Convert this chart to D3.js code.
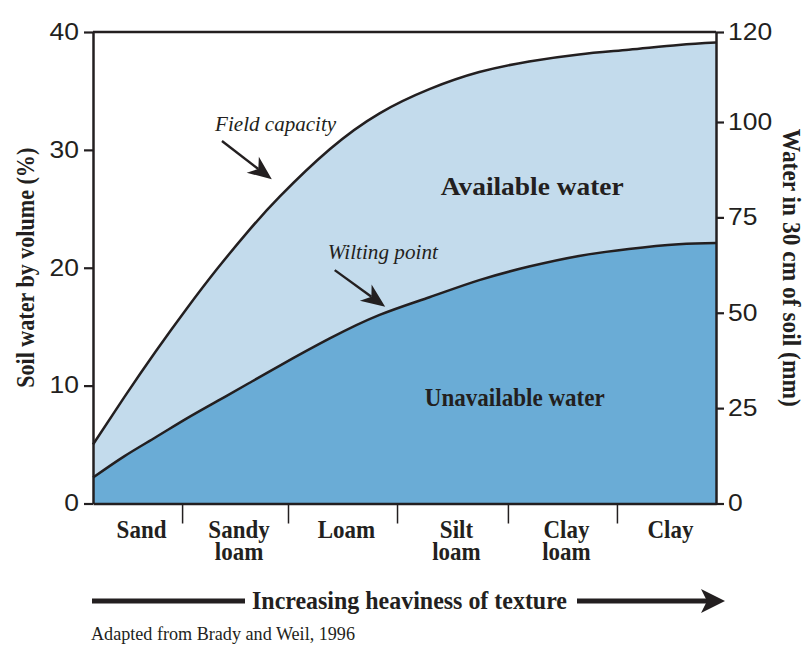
<!DOCTYPE html>
<html>
<head>
<meta charset="utf-8">
<script src="https://cdn.jsdelivr.net/npm/d3@7"></script>
<style>
  body { margin: 0; background: #fff; }
  svg { display: block; }
</style>
</head>
<body>
<svg id="chart"></svg>
<script>
// texture classes, light -> heavy
var textures = [["Sand"], ["Sandy", "loam"], ["Loam"], ["Silt", "loam"], ["Clay", "loam"], ["Clay"]];
// class boundaries along the texture gradient (0 = lightest, 100 = heaviest)
var textureEdges = [0, 14.3, 31.3, 48.8, 66.6, 84.1, 100];
// sample positions along the gradient and soil water (% by volume)
var gradient = [0, 5, 10, 15, 20, 25, 30, 38, 46, 54, 62, 70, 78, 86, 94, 100];
var fieldCapacity = [5.0, 9.0, 12.85, 16.5, 19.95, 23.15, 26.05, 30.05, 33.1, 35.15, 36.6, 37.5, 38.1, 38.5, 38.9, 39.1];
var wiltingPoint = [2.2, 4.0, 5.6, 7.2, 8.7, 10.2, 11.7, 14.0, 16.0, 17.5, 18.95, 20.1, 21.0, 21.6, 22.0, 22.1];
var leftTicks = [0, 10, 20, 30, 40];
var rightTicks = [0, 25, 50, 75, 100, 120];

var width = 807, height = 645;
var ink = "#231f20";
var serif = "'Liberation Serif', 'DejaVu Serif', serif";
var sans = "'Liberation Sans', Arial, sans-serif";

var svg = d3.select("#chart").attr("width", width).attr("height", height);

var x = d3.scaleLinear().domain([0, 100]).range([93, 716]);
var y = d3.scaleLinear().domain([0, 40]).range([503.5, 32]);
// mm axis as drawn in the source: evenly spaced up to 100, 120 at the top edge
var yMm = d3.scaleLinear().domain([0, 100, 120]).range([503.5, 122, 32]);

var data = gradient.map(function (g, i) {
  return { g: g, fc: fieldCapacity[i], wp: wiltingPoint[i] };
});

var curve = d3.curveNatural;

// areas
svg.append("path")
  .datum(data)
  .attr("fill", "#c3dbec")
  .attr("d", d3.area().x(function (d) { return x(d.g); }).y0(y(0))
    .y1(function (d) { return y(d.fc); }).curve(curve));

svg.append("path")
  .datum(data)
  .attr("fill", "#6aacd6")
  .attr("d", d3.area().x(function (d) { return x(d.g); }).y0(y(0))
    .y1(function (d) { return y(d.wp); }).curve(curve));

// curves
["fc", "wp"].forEach(function (k) {
  svg.append("path")
    .datum(data)
    .attr("fill", "none")
    .attr("stroke", ink)
    .attr("stroke-width", 2.5)
    .attr("d", d3.line().x(function (d) { return x(d.g); })
      .y(function (d) { return y(d[k]); }).curve(curve));
});

// top frame line
svg.append("line")
  .attr("x1", x(0)).attr("x2", x(100))
  .attr("y1", y(40)).attr("y2", y(40))
  .attr("stroke", ink).attr("stroke-width", 2.5);

function styleAxis(g) {
  g.select(".domain").attr("stroke", ink).attr("stroke-width", 2.5);
  g.selectAll(".tick line").attr("stroke", ink).attr("stroke-width", 2.2);
  g.selectAll(".tick text")
    .attr("fill", ink)
    .style("font-family", sans)
    .style("font-size", "23px");
}

// left axis
var gLeft = svg.append("g")
  .attr("transform", "translate(" + x(0) + ",0)")
  .call(d3.axisLeft(y).tickValues(leftTicks).tickSize(9).tickSizeOuter(0));
styleAxis(gLeft);
gLeft.selectAll(".tick text")
  .attr("x", 0)
  .attr("transform", "translate(-14,0) scale(1.15,1)");

// right axis
var gRight = svg.append("g")
  .attr("transform", "translate(" + x(100) + ",0)")
  .call(d3.axisRight(yMm).tickValues(rightTicks).tickSize(8).tickSizeOuter(0));
styleAxis(gRight);
gRight.selectAll(".tick text")
  .attr("x", 0)
  .attr("transform", "translate(12,0) scale(1.15,1)");

// bottom axis with class separators
var gBottom = svg.append("g")
  .attr("transform", "translate(0," + y(0) + ")")
  .call(d3.axisBottom(x).tickValues(textureEdges.slice(1, -1)).tickSize(20)
    .tickSizeOuter(0).tickFormat(""));
styleAxis(gBottom);
gBottom.selectAll(".tick line").attr("stroke-width", 1.5);

// texture labels (one text element each, lines as tspans)
textures.forEach(function (lines, i) {
  var cx = (x(textureEdges[i]) + x(textureEdges[i + 1])) / 2 + 4;
  var t = svg.append("text")
    .attr("transform", "translate(" + cx + ",538) scale(0.92,1)")
    .attr("text-anchor", "middle")
    .style("font-family", serif)
    .style("font-weight", "bold")
    .style("font-size", "25px")
    .attr("fill", ink);
  lines.forEach(function (s, j) {
    t.append("tspan").attr("x", 0).attr("y", j * 22).text(s);
  });
});

// axis titles
svg.append("text")
  .attr("transform", "translate(34," + (y(20)) + ") rotate(-90)")
  .attr("text-anchor", "middle")
  .attr("textLength", 240)
  .attr("lengthAdjust", "spacingAndGlyphs")
  .style("font-family", serif)
  .style("font-weight", "bold")
  .style("font-size", "25px")
  .attr("fill", ink)
  .text("Soil water by volume (%)");

svg.append("text")
  .attr("transform", "translate(783," + (y(20)) + ") rotate(90)")
  .attr("text-anchor", "middle")
  .attr("textLength", 278)
  .attr("lengthAdjust", "spacingAndGlyphs")
  .style("font-family", serif)
  .style("font-weight", "bold")
  .style("font-size", "25px")
  .attr("fill", ink)
  .text("Water in 30 cm of soil (mm)");

// region labels
function regionLabel(t, gx, v, len) {
  svg.append("text")
    .attr("x", x(gx)).attr("y", y(v))
    .attr("text-anchor", "middle")
    .attr("textLength", len)
    .attr("lengthAdjust", "spacingAndGlyphs")
    .style("font-family", serif)
    .style("font-weight", "bold")
    .style("font-size", "25px")
    .attr("fill", ink)
    .text(t);
}
regionLabel("Available water", 70.5, 26.15, 183);
regionLabel("Unavailable water", 67.7, 8.3, 180);

// curve annotations
function note(t, gx, v, len) {
  svg.append("text")
    .attr("x", x(gx)).attr("y", y(v))
    .attr("textLength", len)
    .attr("lengthAdjust", "spacingAndGlyphs")
    .style("font-family", serif)
    .style("font-style", "italic")
    .style("font-size", "20px")
    .attr("fill", ink)
    .text(t);
}
note("Field capacity", 19.6, 31.6, 121);
note("Wilting point", 37.7, 20.7, 110);

function arrow(x1, y1, x2, y2, hl, hw, notch, sw) {
  var dx = x2 - x1, dy = y2 - y1, L = Math.hypot(dx, dy);
  var ux = dx / L, uy = dy / L, px = -uy, py = ux;
  svg.append("line")
    .attr("x1", x1).attr("y1", y1)
    .attr("x2", x2 - ux * notch).attr("y2", y2 - uy * notch)
    .attr("stroke", ink).attr("stroke-width", sw);
  var pts = [
    [x2, y2],
    [x2 - ux * hl + px * hw, y2 - uy * hl + py * hw],
    [x2 - ux * notch, y2 - uy * notch],
    [x2 - ux * hl - px * hw, y2 - uy * hl - py * hw]
  ];
  svg.append("path")
    .attr("d", "M" + pts.join("L") + "Z")
    .attr("fill", ink);
}
arrow(x(20.7), y(30.75), x(28.7), y(27.5), 24, 10, 17, 2.4);
arrow(x(38.8), y(19.8), x(46.9), y(16.7), 24, 10, 17, 2.4);

// texture direction arrow
svg.append("line")
  .attr("x1", 92).attr("x2", 245).attr("y1", 601).attr("y2", 601)
  .attr("stroke", ink).attr("stroke-width", 5);
svg.append("text")
  .attr("x", 409.5).attr("y", 609)
  .attr("text-anchor", "middle")
  .attr("textLength", 315)
  .attr("lengthAdjust", "spacingAndGlyphs")
  .style("font-family", serif)
  .style("font-weight", "bold")
  .style("font-size", "26px")
  .attr("fill", ink)
  .text("Increasing heaviness of texture");
arrow(577, 601, 725, 601, 24, 12, 18, 5);

// source
svg.append("text")
  .attr("x", 91).attr("y", 640)
  .attr("textLength", 264)
  .attr("lengthAdjust", "spacingAndGlyphs")
  .style("font-family", serif)
  .style("font-size", "18px")
  .attr("fill", ink)
  .text("Adapted from Brady and Weil, 1996");
</script>
</body>
</html>
